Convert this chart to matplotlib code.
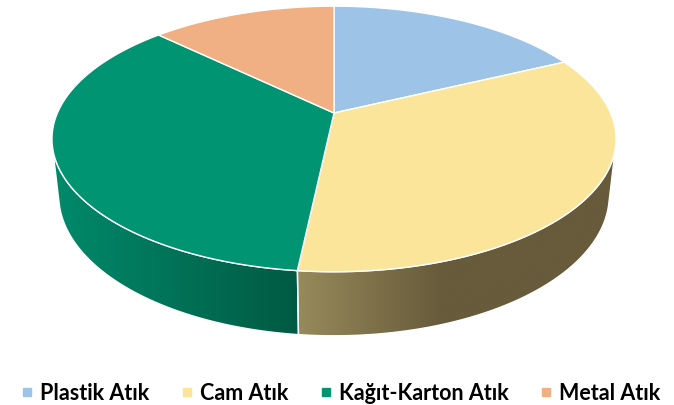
import numpy as np
import matplotlib
matplotlib.use("Agg")
import matplotlib.pyplot as plt
from matplotlib.patches import Polygon
from matplotlib.lines import Line2D
from matplotlib.colors import to_rgb

categories = ["Plastik Atık", "Cam Atık", "Kağıt-Karton Atık", "Metal Atık"]
values = [17.9, 33.8, 35.5, 12.8]
top_colors = ["#9DC3E6", "#FBE59A", "#009473", "#F0B084"]
side_left = ["#7F9EBB", "#978A5B", "#008A6B", "#C28E6A"]
side_right = ["#5E7690", "#675B3B", "#005A43", "#8E6648"]

W, H = 674, 405
fig = plt.figure(figsize=(W / 100, H / 100), dpi=100)
ax = fig.add_axes([0, 0, 1, 1])
ax.set_xlim(0, W)
ax.set_ylim(H, 0)
ax.axis("off")

# perspective camera
elev = np.radians(27.5)
s, c = np.sin(elev), np.cos(elev)
D, f, h = 4.537, 1254.8, 0.2314
cx, cy = 334.0, 113.0


def proj(t, z):
    t = np.radians(np.asarray(t, dtype=float))
    x, y = np.cos(t), np.sin(t)
    yup = y * s + z * c
    Z = D + y * c - z * s
    return np.column_stack([cx + f * x / Z, cy - f * yup / Z])


total = sum(values)
bounds = [90.0]
for v in values:
    bounds.append(bounds[-1] - v / total * 360.0)

# visible outer wall range (math angle, degrees)
lim = np.degrees(np.arcsin(1.0 / (D * c)))
vis_lo, vis_hi = -180.0 + lim, -lim

# sides
for i in range(len(values)):
    a_start, a_end = bounds[i], bounds[i + 1]  # a_start > a_end
    for k in (0, -360):
        hi = min(a_start + k, vis_hi)
        lo = max(a_end + k, vis_lo)
        if hi <= lo:
            continue
        ts = np.linspace(hi, lo, 120)
        top = proj(ts, 0.0)
        bot = proj(ts[::-1], -h)
        pts = np.vstack([top, bot])
        poly = Polygon(pts, closed=True, facecolor="none", edgecolor="white",
                       lw=1.0, zorder=3)
        ax.add_patch(poly)
        xmin, xmax = pts[:, 0].min(), pts[:, 0].max()
        ymin, ymax = pts[:, 1].min(), pts[:, 1].max()
        n = 256
        cl, cr = np.array(to_rgb(side_left[i])), np.array(to_rgb(side_right[i]))
        if i == 1:
            u = np.clip(np.linspace(0, 1, n) / 0.45, 0, 1)
        else:
            u = np.linspace(0, 1, n)
        grad = cl[None, :] * (1 - u[:, None]) + cr[None, :] * u[:, None]
        img = np.tile(grad[None, :, :], (2, 1, 1))
        im = ax.imshow(img, extent=[xmin, xmax, ymax, ymin], aspect="auto",
                       interpolation="bilinear", zorder=2)
        clip = Polygon(pts, closed=True, transform=ax.transData)
        im.set_clip_path(clip)

# tops
for i in range(len(values)):
    ts = np.linspace(bounds[i], bounds[i + 1], 200)
    arc = proj(ts, 0.0)
    pts = np.vstack([[cx, cy], arc])
    ax.add_patch(Polygon(pts, closed=True, facecolor=top_colors[i],
                         edgecolor="white", lw=1.0, zorder=4))

handles = [Line2D([], [], marker="s", linestyle="none", markersize=6,
                  markerfacecolor=col, markeredgecolor=col) for col in top_colors]
fig.legend(handles, categories, loc="lower center", ncol=4,
           bbox_to_anchor=(0.507, -0.045), frameon=False,
           prop={"family": "Lato", "weight": "bold", "size": 15.5},
           handlelength=0.4, handletextpad=0.4, columnspacing=1.55,
           labelcolor="black")

fig.savefig("out.png", dpi=100)
